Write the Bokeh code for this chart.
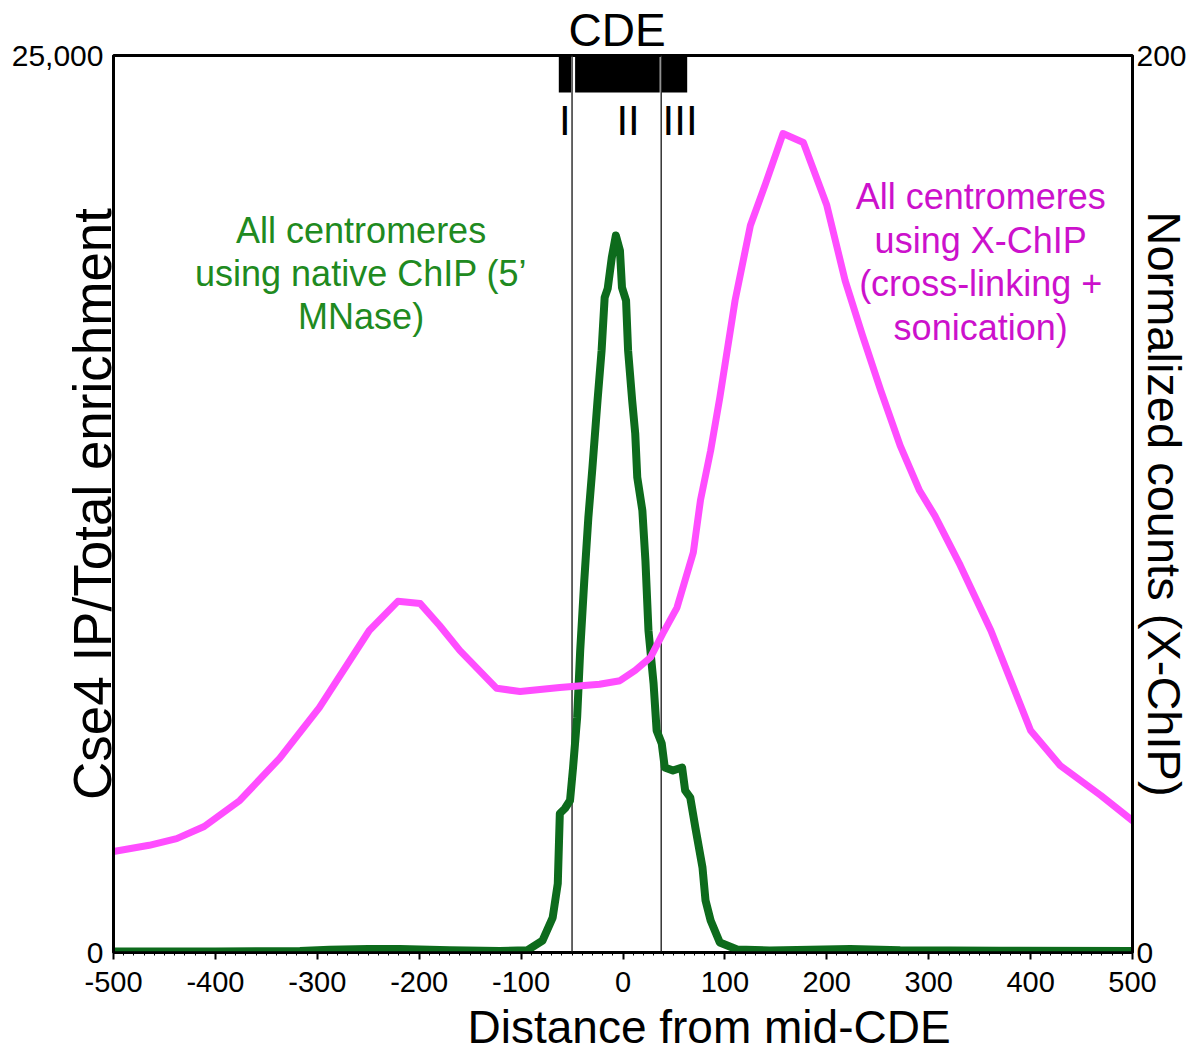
import math
from bokeh.plotting import figure
from bokeh.models import (Range1d, LinearAxis, FixedTicker, Label, Span, Title,
                          NumeralTickFormatter, SingleIntervalTicker)
from bokeh.embed import file_html
from bokeh.resources import INLINE

# ---------------- data ----------------
pink_x = [-500, -465, -438, -411, -376, -337, -298, -249, -221, -199,
          -180, -160, -124, -101, -62, -23, -3, 12, 27, 39,
          53, 69, 76, 86, 95, 110, 125, 140, 157, 177,
          200, 218, 235, 253, 272, 291, 306, 331, 361, 400,
          429, 469, 500]
pink_y = [22.5, 23.9, 25.4, 28.1, 33.9, 43.3, 54.6, 71.8, 78.3, 77.8,
          72.9, 67.3, 58.9, 58.2, 59.1, 59.8, 60.6, 62.9, 65.8, 71.1,
          76.9, 89.2, 100.8, 111.9, 123.7, 145.4, 162.1, 171.5, 182.6, 180.6,
          166.6, 149.8, 137.6, 125.3, 113, 103, 97.4, 86.3, 71.8, 49.5,
          41.7, 35, 29.4]

green_x = [-500, -400, -317, -288, -250, -219, -170, -121, -94, -79,
           -69, -64, -62, -57, -52, -49, -45, -42, -38, -34,
           -30, -25, -21, -18, -15, -11, -7, -3, -1, 3,
           5, 9, 12, 14, 19, 22, 25, 30, 33, 38,
           41, 49, 58, 61, 66, 71, 78, 81, 86, 95,
           112, 144, 223, 272, 370, 500]
green_y = [30, 30, 40, 80, 100, 100, 60, 40, 60, 334,
           975, 1923, 3874, 4013, 4236, 5156, 6550, 8417, 10368, 12124,
           13517, 15385, 16778, 18255, 18506, 19370, 19983, 19565, 18534, 18172,
           16778, 15385, 14465, 13239, 12319, 10925, 8974, 7497, 6187, 5825,
           5156, 5072, 5156, 4515, 4320, 3484, 2369, 1449, 892, 279,
           84, 56, 100, 60, 50, 40]

# CDE element segments (I, II, III)
cde_left = [-63, -47, 38]
cde_right = [-51, 36, 63]
cde_names = ["I", "II", "III"]
cde_name_x = [-57, 5, 56]
cde_lines = [-50, 37.5]

x_ticks = [-500, -400, -300, -200, -100, 0, 100, 200, 300, 400, 500]
left_ticks = [0, 25000]
right_ticks = [0, 200]

FONT = "Liberation Sans"
GREEN_LINE = "#0d6b1c"
GREEN_TEXT = "#208a20"
PINK_LINE = "#ff4dff"
PINK_TEXT = "#cc11cc"

# ---------------- figure ----------------
p = figure(width=1195, height=1059, output_backend="svg", toolbar_location=None,
           x_range=Range1d(-500, 500), y_range=Range1d(0, 25000),
           min_border_left=113, min_border_right=63, min_border_top=55,
           min_border_bottom=107, y_axis_location=None)
p.extra_y_ranges = {"right": Range1d(0, 200)}
p.grid.visible = False
p.outline_line_color = "black"
p.outline_line_width = 3
p.background_fill_color = "white"
p.border_fill_color = "white"

# "CDE" heading above the element box
p.title.text = "CDE"
p.title.text_font = FONT
p.title.text_font_size = "46px"
p.title.text_font_style = "normal"
p.title.text_color = "black"
p.title.align = "left"
p.title.offset = 455
p.title.standoff = 0

# x axis
xa = p.xaxis[0]
xa.ticker = SingleIntervalTicker(interval=100, num_minor_ticks=10)
xa.major_label_overrides = {v: str(v) for v in x_ticks}
xa.axis_line_width = 2.5
xa.axis_line_color = "black"
xa.major_tick_out = 7
xa.major_tick_in = 0
xa.major_tick_line_width = 2
xa.minor_tick_out = 3
xa.minor_tick_in = 0
xa.minor_tick_line_width = 1
xa.major_label_text_font = FONT
xa.major_label_text_font_size = "29px"
xa.major_label_text_color = "black"
xa.major_label_standoff = 12

p.add_layout(Title(text="Distance from mid-CDE", text_font=FONT,
                   text_font_size="46px", text_font_style="normal",
                   text_color="black", align="left", offset=354, standoff=8),
             "below")

# left axis
la = LinearAxis(ticker=FixedTicker(ticks=left_ticks),
                formatter=NumeralTickFormatter(format="0,0"))
la.axis_line_width = 3
la.axis_line_color = "black"
la.major_tick_out = 0
la.major_tick_in = 0
la.minor_tick_out = 0
la.minor_tick_in = 0
la.major_label_text_font = FONT
la.major_label_text_font_size = "30px"
la.major_label_text_color = "black"
la.major_label_standoff = 10
la.axis_label = "Cse4 IP/Total enrichment"
la.axis_label_text_font = FONT
la.axis_label_text_font_size = "53px"
la.axis_label_text_font_style = "normal"
la.axis_label_text_color = "black"
la.axis_label_standoff = -113
p.add_layout(la, "left")

# right axis
ra = LinearAxis(y_range_name="right", ticker=FixedTicker(ticks=right_ticks))
ra.axis_line_width = 3
ra.axis_line_color = "black"
ra.major_tick_out = 0
ra.major_tick_in = 0
ra.minor_tick_out = 0
ra.minor_tick_in = 0
ra.major_label_text_font = FONT
ra.major_label_text_font_size = "30px"
ra.major_label_text_color = "black"
ra.major_label_standoff = 4
ra.axis_label = "Normalized counts (X-ChIP)"
ra.axis_label_text_font = FONT
ra.axis_label_text_font_size = "47px"
ra.axis_label_text_font_style = "normal"
ra.axis_label_text_color = "black"
ra.axis_label_standoff = -52
p.add_layout(ra, "right")

# CDE vertical lines
for xv in cde_lines:
    p.add_layout(Span(location=xv, dimension="height", line_color="#333333",
                      line_width=1.5, level="underlay"))

# CDE box
p.quad(left=cde_left, right=cde_right, bottom=23969, top=25000,
       fill_color="black", line_color="black", line_width=0)

# curves
p.line(green_x, green_y, line_color=GREEN_LINE, line_width=8,
       line_join="round", line_cap="round")
p.line(pink_x, pink_y, y_range_name="right", line_color=PINK_LINE, line_width=7,
       line_join="round", line_cap="round")

# labels I, II, III
for name, xv in zip(cde_names, cde_name_x):
    p.add_layout(Label(x=xv, y=23188, text=name, text_font=FONT,
                       text_font_size="42px", text_align="center",
                       text_baseline="middle", text_color="black"))

# annotations
p.add_layout(Label(x=-257, y=18924,
                   text="All centromeres\nusing native ChIP (5\u2019\nMNase)",
                   text_font=FONT, text_font_size="36px", text_align="center",
                   text_baseline="middle", text_color=GREEN_TEXT,
                   text_line_height=1.06))
p.add_layout(Label(x=351, y=19245,
                   text="All centromeres\nusing X-ChIP\n(cross-linking +\nsonication)",
                   text_font=FONT, text_font_size="36px", text_align="center",
                   text_baseline="middle", text_color=PINK_TEXT,
                   text_line_height=1.06))

open("out.html", "w").write(file_html(p, INLINE))
